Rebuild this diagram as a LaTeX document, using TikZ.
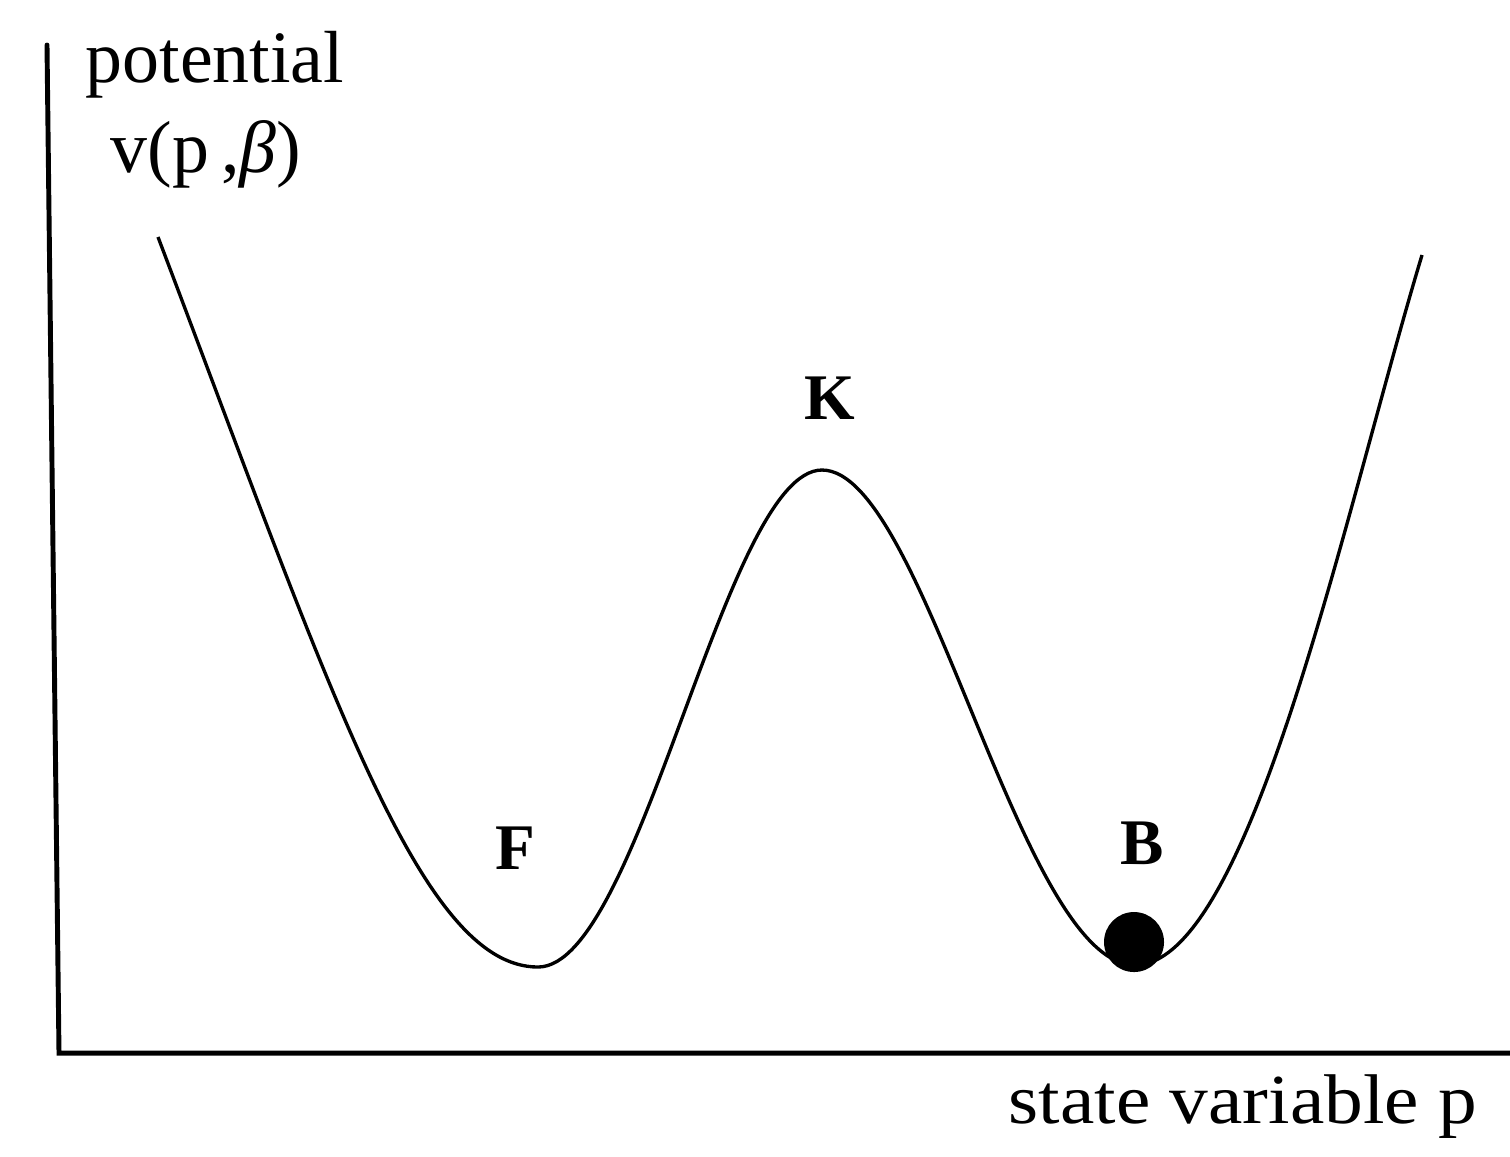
\documentclass[tikz,border=0pt]{standalone}
\usepackage{fontspec}
\setmainfont{Liberation Serif}
\begin{document}
\begin{tikzpicture}[x=0.01cm,y=-0.01cm,
  lbl/.style={inner sep=0pt,font=\fontsize{21}{25}\selectfont},
  pt/.style={inner sep=0pt,font=\fontsize{18.5}{22}\selectfont\bfseries},
  axis/.style={line width=1.4pt,line cap=round},
  curve/.style={line width=0.95pt}]
\useasboundingbox (0,0) rectangle (1510,1156);
\coordinate (ytop) at (47,45);
\coordinate (orig) at (59,1053);
\coordinate (xend) at (1510,1053);
\draw[axis] (ytop) -- (orig) -- (xend);
\coordinate (c0) at (158,237);
\coordinate (m1) at (538,967);
\coordinate (mx) at (822,470);
\coordinate (m2) at (1135,965);
\coordinate (c1) at (1422,255);
\draw[curve] (c0) .. controls (330,690) and (420,967) .. (m1)
  .. controls (640,967) and (725,470) .. (mx)
  .. controls (925,470) and (1020,965) .. (m2)
  .. controls (1250,965) and (1345,510) .. (c1);
\fill (1134,942) circle[radius=30];
\node[lbl,anchor=base west] (pot) at (85,82) {potential};
\node[lbl,anchor=base west] (vfun) at (110,172) {v(p\,,\textit{β})};
\node[pt] (K) at (830,398) {K};
\node[pt] (F) at (515,848) {F};
\node[pt] (B) at (1142,843) {B};
\node[lbl,anchor=base west] (xl) at (1008,1123) {\fontsize{20}{24}\selectfont\scalebox{1.1}[1]{state variable p}};
\end{tikzpicture}
\end{document}
